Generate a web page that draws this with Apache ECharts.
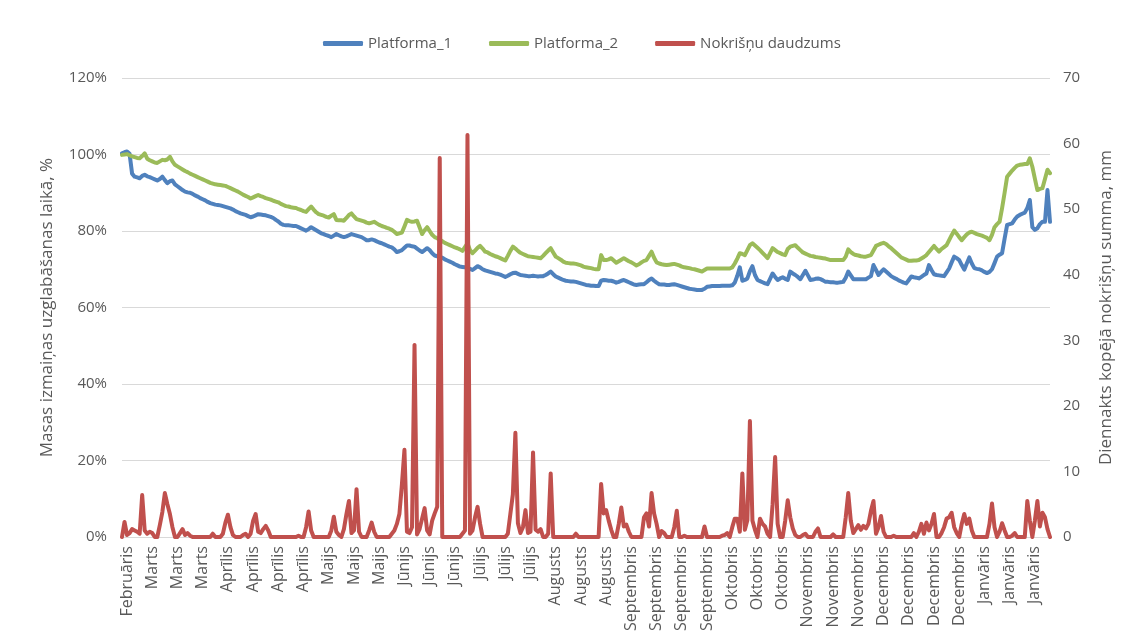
<!DOCTYPE html>
<html><head><meta charset="utf-8">
<script src="https://cdn.jsdelivr.net/npm/echarts@6/dist/echarts.min.js"></script>
<style>html,body{margin:0;padding:0;background:#fff}#c{width:1131px;height:640px}</style>
</head><body><div id="c"></div>
<script>
const monthLabels = ['Februāris','Marts','Marts','Marts','Aprīlis','Aprīlis','Aprīlis','Aprīlis','Maijs','Maijs','Maijs','Jūnijs','Jūnijs','Jūnijs','Jūlijs','Jūlijs','Jūlijs','Augusts','Augusts','Augusts','Septembris','Septembris','Septembris','Septembris','Oktobris','Oktobris','Oktobris','Novembris','Novembris','Novembris','Decembris','Decembris','Decembris','Decembris','Janvāris','Janvāris','Janvāris'];
const labelStart = 2, labelStep = 10;
const leftTicks = [0, 20, 40, 60, 80, 100, 120];
const rightTicks = [0, 10, 20, 30, 40, 50, 60, 70];

const platforma1 = [
100.3,100.6,100.8,100.2,95.0,94.2,94.0,93.8,94.4,94.7,
94.3,94.1,93.8,93.5,93.2,93.6,94.2,93.3,92.5,93.0,
93.2,92.2,91.7,91.2,90.7,90.3,90.1,90.0,89.7,89.3,
89.0,88.6,88.3,88.0,87.6,87.3,87.1,86.9,86.8,86.7,
86.5,86.3,86.1,85.9,85.6,85.2,84.9,84.6,84.4,84.2,
83.9,83.6,83.8,84.1,84.4,84.3,84.2,84.1,83.9,83.7,
83.4,82.9,82.5,81.9,81.6,81.5,81.5,81.4,81.3,81.3,
81.0,80.7,80.4,80.1,80.5,81.0,80.6,80.2,79.8,79.4,
79.2,78.9,78.7,78.4,78.8,79.2,78.9,78.6,78.4,78.6,
78.9,79.2,79.0,78.8,78.6,78.4,78.0,77.6,77.6,77.8,
77.6,77.3,77.0,76.8,76.5,76.2,75.9,75.7,75.2,74.5,
74.7,75.0,75.6,76.2,76.2,76.0,75.9,75.4,74.9,74.5,
75.0,75.5,75.0,74.2,73.6,73.4,73.3,73.0,72.6,72.3,
72.0,71.7,71.3,71.0,70.7,70.6,70.5,70.4,70.1,69.8,
70.3,70.8,70.5,70.0,69.7,69.5,69.3,69.1,68.9,68.8,
68.6,68.3,68.0,68.3,68.7,69.0,69.1,68.8,68.5,68.4,
68.3,68.2,68.2,68.3,68.2,68.1,68.2,68.2,68.5,68.9,
69.4,68.7,68.1,67.8,67.5,67.2,67.0,66.9,66.8,66.8,
66.7,66.5,66.3,66.1,65.9,65.8,65.7,65.7,65.6,65.6,
67.0,67.2,67.1,67.0,67.0,66.8,66.5,66.7,67.0,67.2,
66.9,66.6,66.3,66.0,65.9,66.0,66.1,66.1,66.6,67.2,
67.6,67.0,66.5,66.1,66.0,66.0,65.9,65.9,66.0,66.1,
65.9,65.7,65.5,65.3,65.1,64.9,64.8,64.7,64.6,64.6,
64.6,64.9,65.4,65.5,65.6,65.6,65.6,65.6,65.7,65.7,
65.7,65.7,65.8,66.5,68.3,70.5,67.0,67.2,67.6,69.5,
70.8,68.5,67.2,66.9,66.6,66.3,66.1,67.5,68.9,68.0,
67.2,67.6,67.9,67.5,67.2,69.4,68.9,68.5,68.0,67.4,
68.5,69.6,68.4,67.2,67.3,67.5,67.6,67.4,67.1,66.7,
66.7,66.6,66.6,66.5,66.5,66.6,66.7,67.8,69.4,68.4,
67.4,67.4,67.4,67.4,67.4,67.4,67.8,68.2,71.1,69.8,
68.5,69.3,70.0,69.4,68.8,68.2,67.8,67.5,67.1,66.8,
66.5,66.3,67.2,68.1,67.9,67.8,67.6,68.0,68.5,68.9,
71.1,69.8,68.7,68.5,68.4,68.3,68.2,69.2,70.2,71.8,
73.3,72.9,72.4,71.1,69.9,71.5,73.1,71.5,70.3,70.1,
70.0,69.7,69.3,69.0,69.3,70.0,71.6,73.3,73.8,74.2,
78.0,81.6,81.8,82.0,83.0,83.8,84.2,84.5,84.8,86.0,
88.1,81.0,80.3,80.7,81.8,82.4,82.4,90.7,82.4
];

const platforma2 = [
99.9,100.0,100.1,99.8,99.5,99.3,99.1,99.0,99.6,100.3,
98.9,98.5,98.2,97.9,97.8,98.2,98.6,98.5,98.7,99.4,
98.2,97.3,96.9,96.5,96.1,95.7,95.4,95.0,94.7,94.4,
94.1,93.8,93.5,93.2,92.9,92.6,92.4,92.2,92.1,92.0,
91.9,91.8,91.5,91.2,90.9,90.6,90.3,89.9,89.5,89.2,
88.9,88.5,88.8,89.1,89.4,89.1,88.9,88.6,88.4,88.2,
87.9,87.7,87.5,87.1,86.8,86.5,86.4,86.2,86.1,86.0,
85.7,85.5,85.2,85.0,85.7,86.4,85.6,84.9,84.4,84.2,
84.0,83.7,83.5,84.0,84.4,82.9,82.8,82.8,82.7,83.4,
84.2,84.6,83.8,83.1,82.9,82.7,82.5,82.2,82.0,82.2,
82.4,82.0,81.6,81.3,81.1,80.8,80.6,80.3,79.8,79.2,
79.4,79.6,81.2,82.9,82.6,82.4,82.5,82.7,81.0,79.2,
80.2,81.0,80.0,79.0,78.4,78.1,77.7,77.3,76.9,76.6,
76.3,76.0,75.7,75.5,75.2,74.8,75.8,76.8,75.0,74.2,
74.9,75.6,76.1,75.4,74.6,74.4,74.0,73.7,73.4,73.2,
72.9,72.6,72.3,73.5,74.8,75.9,75.4,74.8,74.3,74.0,
73.7,73.4,73.3,73.2,73.1,73.0,72.9,73.5,74.2,74.9,
75.5,74.4,73.3,72.9,72.5,72.0,71.7,71.6,71.5,71.5,
71.4,71.2,71.0,70.7,70.5,70.4,70.3,70.1,70.0,70.0,
73.7,72.4,72.4,72.6,72.9,72.3,71.7,72.1,72.5,72.9,
72.5,72.1,71.8,71.4,71.0,71.3,71.8,72.2,72.4,73.5,
74.6,73.0,71.8,71.5,71.3,71.2,71.1,71.2,71.3,71.4,
71.2,71.0,70.7,70.5,70.4,70.3,70.1,70.0,69.8,69.6,
69.4,69.8,70.2,70.2,70.2,70.2,70.2,70.2,70.2,70.2,
70.2,70.2,70.5,71.5,72.8,74.2,74.0,73.7,75.0,76.3,
76.8,76.2,75.6,75.0,74.3,73.6,72.9,74.2,75.5,75.0,
74.5,74.2,73.9,73.7,75.3,75.9,76.1,76.3,75.6,75.0,
74.4,74.1,73.8,73.5,73.4,73.2,73.1,73.0,72.9,72.8,
72.6,72.4,72.4,72.4,72.4,72.4,72.4,73.3,75.2,74.5,
74.0,73.7,73.6,73.4,73.3,73.3,73.5,73.7,74.9,76.1,
76.4,76.7,76.9,76.6,76.0,75.5,74.9,74.3,73.7,73.1,
72.8,72.5,72.2,72.2,72.3,72.3,72.4,72.8,73.2,73.7,
74.5,75.3,76.1,75.3,74.6,75.3,75.8,76.3,77.6,78.9,
80.1,79.3,78.4,77.6,78.4,79.1,79.6,79.8,79.5,79.2,
79.0,78.8,78.5,78.2,77.6,79.0,81.0,81.8,82.4,86.0,
90.0,94.2,95.0,95.8,96.5,97.1,97.3,97.4,97.5,97.5,
99.0,96.8,93.7,90.7,91.0,91.2,93.6,96.0,95.1
];

const nokrisni = [
0,2.3,0.3,0.6,1.2,1.0,0.8,0.5,6.4,1.0,
0.5,0.8,0.6,0,0,1.8,3.8,6.7,5.0,3.5,
1.5,0,0,0.6,1.2,0.3,0.6,0.2,0,0,
0,0,0,0,0,0,0.5,0,0,0,
0.5,2.2,3.4,1.5,0.3,0,0,0,0.3,0.5,
0,0.5,2.5,3.5,0.8,0.6,1.2,1.7,1.0,0,
0,0,0,0,0,0,0,0,0,0,
0.2,0,0,1.5,3.9,1.0,0,0,0,0,
0,0,0,1.0,3.1,0.8,0.3,0,1.2,3.5,
5.5,0.6,1.0,7.3,0.8,0,0,0,1.0,2.2,
0.8,0,0,0,0,0,0,0.5,1.0,2.0,
3.5,8.0,13.3,0.8,0.6,1.5,29.3,0.4,1.2,2.8,
4.4,1.0,0.4,2.5,3.6,4.6,57.8,0,0,0,
0,0,0,0,0,0.5,1.0,61.3,0.5,1.0,
3.0,4.6,2.0,0,0,0,0,0,0,0,
0,0,0,0.5,3.5,6.5,15.9,2.1,0.6,1.5,
4.1,0.6,0.8,12.9,1.1,0.8,1.2,0,0,0.5,
9.7,0,0,0,0,0,0,0,0,0,
0.5,0,0,0,0,0,0,0,0,0,
8.1,3.6,4.1,2.5,1.1,0,0,2.0,4.5,1.6,
1.9,0.8,0,0,0,0,0,3.0,3.6,1.6,
6.7,3.6,2.0,0,0.9,0.6,0,0,0,1.5,
4.0,0,0,0.2,0,0,0,0,0,0,
0,1.6,0,0,0,0,0,0,0.2,0.3,
0.6,0,1.5,2.8,2.8,0.8,9.7,1.1,2.6,17.7,
2.5,1.1,0,2.8,2.0,1.6,0.5,0,5.0,12.2,
2.0,0,0,2.5,5.6,3.0,1.3,0.3,0,0,
0.3,0.5,0,0,0,0.8,1.3,0,0,0,
0,0,0.4,0,0,0,0,3.0,6.7,2.5,
0.6,1.2,1.8,1.1,1.7,1.3,2.0,4.0,5.5,0.5,
1.5,3.2,0.8,0,0,0,0.2,0,0,0,
0,0,0,0,0.6,0,0.8,2.0,0.5,2.2,
1.0,2.0,3.5,0,0,0.6,1.5,2.8,3.0,3.7,
1.5,0.6,0,2.0,3.5,2.0,2.8,1.0,0,0,
0,0,0,0,2.0,5.1,1.5,0,0.8,2.1,
1.0,0,0,0.2,0.6,0,0,0,0,5.5,
2.5,0,2.5,5.5,1.6,3.7,3.0,1.2,0
];

const dayKeys = platforma1.map((_, i) => 'd' + i);
const FONT = '"Open Sans", "Noto Sans", sans-serif';
const TXT = '#595959';

const chart = echarts.init(document.getElementById('c'), null, {renderer: 'canvas'});
chart.setOption({
  animation: false,
  backgroundColor: '#ffffff',
  textStyle: {fontFamily: FONT},
  legend: {
    top: 31, left: 318, itemGap: 37, itemWidth: 40, itemHeight: 5, icon: 'roundRect',
    textStyle: {color: TXT, fontSize: 15, fontFamily: FONT},
    data: ['Platforma_1', 'Platforma_2', 'Nokrišņu daudzums']
  },
  grid: {left: 122, right: 81, top: 78, bottom: 103, containLabel: false},
  xAxis: {
    type: 'category', data: dayKeys, boundaryGap: false,
    axisTick: {show: false},
    axisLine: {lineStyle: {color: '#D9D9D9', width: 1}},
    axisLabel: {
      rotate: 90, margin: 9, color: TXT, fontSize: 16, fontFamily: FONT,
      interval: (i) => i >= labelStart && (i - labelStart) % labelStep === 0,
      formatter: (v, i) => monthLabels[(i - labelStart) / labelStep] || ''
    },
    splitLine: {show: false}
  },
  yAxis: [
    {
      type: 'value', min: leftTicks[0], max: leftTicks[leftTicks.length - 1], interval: 20,
      name: 'Masas izmaiņas uzglabāšanas laikā, %', nameLocation: 'middle', nameGap: 66,
      nameTextStyle: {color: TXT, fontSize: 17, fontFamily: FONT},
      axisLabel: {formatter: '{value}%', color: TXT, fontSize: 15, margin: 15, fontFamily: FONT},
      axisLine: {show: false}, axisTick: {show: false},
      splitLine: {lineStyle: {color: '#D9D9D9', width: 1}}
    },
    {
      type: 'value', min: rightTicks[0], max: rightTicks[rightTicks.length - 1], interval: 10,
      position: 'right',
      name: 'Diennakts kopējā nokrišņu summa, mm', nameLocation: 'middle', nameGap: 48,
      nameRotate: 90,
      nameTextStyle: {color: TXT, fontSize: 17, fontFamily: FONT},
      axisLabel: {color: TXT, fontSize: 15, margin: 13, fontFamily: FONT},
      axisLine: {show: false}, axisTick: {show: false},
      splitLine: {show: false}
    }
  ],
  series: [
    {
      name: 'Platforma_1', type: 'line', yAxisIndex: 0, data: platforma1,
      showSymbol: false, symbol: 'none', color: '#4F81BD',
      lineStyle: {width: 4, color: '#4F81BD', join: 'round', cap: 'round'}
    },
    {
      name: 'Platforma_2', type: 'line', yAxisIndex: 0, data: platforma2,
      showSymbol: false, symbol: 'none', color: '#9BBB59',
      lineStyle: {width: 4, color: '#9BBB59', join: 'round', cap: 'round'}
    },
    {
      name: 'Nokrišņu daudzums', type: 'line', yAxisIndex: 1, data: nokrisni,
      showSymbol: false, symbol: 'none', color: '#C0504D',
      lineStyle: {width: 4, color: '#C0504D', join: 'round', cap: 'round'}
    }
  ]
});
</script></body></html>
